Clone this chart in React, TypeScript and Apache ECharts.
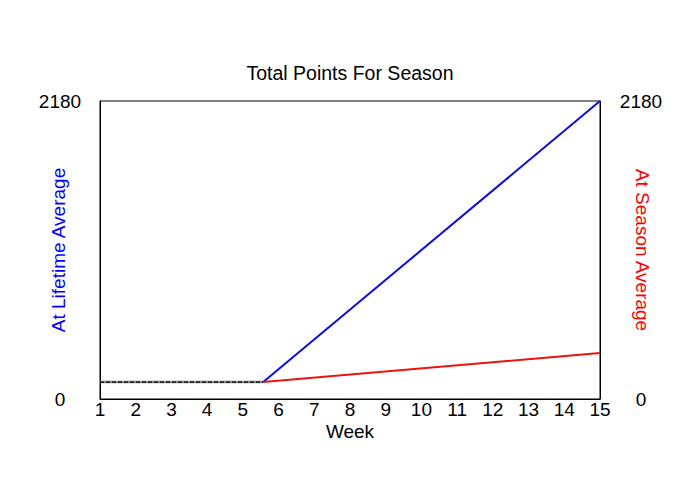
import { useEffect, useRef } from 'react'
import * as echarts from 'echarts'

// Weeks 1..15 along the bottom axis
const weekTicks = [1, 15]
const yRange = [0, 2180]

// Points so far (flat part before the projection starts)
const actualWeeks = [1, 5.57]
const actualPoints = [124, 124]

// Projection from the current week to week 15
const projWeeks = [5.57, 15]
const lifetimePoints = [124, 2180]
const seasonPoints = [124, 336]

const FONT = 'Liberation Sans, Arial, sans-serif'
const FS = 19

export default function App(): JSX.Element {
  const chartRef = useRef<HTMLDivElement>(null)

  useEffect(() => {
    if (!chartRef.current) return
    const chart = echarts.init(chartRef.current, undefined, { renderer: 'svg' })

    const zip = (xs: number[], ys: number[]) => xs.map((x, i) => [x, ys[i]])
    const plain = (v: number) => String(v)

    const option: echarts.EChartsOption = {
      animation: false,
      backgroundColor: '#ffffff',
      textStyle: { fontFamily: FONT },
      title: {
        text: 'Total Points For Season',
        left: 'center',
        top: 58,
        textStyle: { fontFamily: FONT, fontSize: 19.5, fontWeight: 'normal', color: '#000' }
      },
      grid: {
        left: 100,
        right: 100,
        top: 101,
        bottom: 101,
        show: true,
        borderColor: '#000',
        borderWidth: 1,
        backgroundColor: 'transparent'
      },
      xAxis: {
        type: 'value',
        min: weekTicks[0],
        max: weekTicks[1],
        interval: 1,
        name: 'Week',
        nameLocation: 'middle',
        nameGap: 23,
        nameMoveOverlap: false,
        nameTextStyle: { fontFamily: FONT, fontSize: FS, color: '#000' },
        axisLine: { show: true, lineStyle: { color: '#000' } },
        axisTick: { show: false },
        splitLine: { show: false },
        axisLabel: { fontFamily: FONT, fontSize: FS, color: '#000', margin: 1, formatter: plain }
      },
      yAxis: [
        {
          type: 'value',
          position: 'left',
          min: yRange[0],
          max: yRange[1],
          interval: yRange[1],
          name: 'At Lifetime Average',
          nameLocation: 'middle',
          nameGap: 32,
          nameRotate: 90,
          nameMoveOverlap: false,
          nameTextStyle: { fontFamily: FONT, fontSize: FS, color: '#0000ff' },
          axisLine: { show: true, lineStyle: { color: '#000' } },
          axisTick: { show: false },
          splitLine: { show: false },
          axisLabel: { fontFamily: FONT, fontSize: FS, color: '#000', margin: 40, align: 'center', formatter: plain }
        },
        {
          type: 'value',
          position: 'right',
          min: yRange[0],
          max: yRange[1],
          interval: yRange[1],
          name: 'At Season Average',
          nameLocation: 'middle',
          nameGap: 33,
          nameRotate: -90,
          nameMoveOverlap: false,
          nameTextStyle: { fontFamily: FONT, fontSize: FS, color: '#ff0000' },
          axisLine: { show: true, lineStyle: { color: '#000' } },
          axisTick: { show: false },
          splitLine: { show: false },
          axisLabel: { fontFamily: FONT, fontSize: FS, color: '#000', margin: 41, align: 'center', formatter: plain }
        }
      ],
      series: [
        {
          name: 'Actual base',
          type: 'line',
          data: zip(actualWeeks, actualPoints),
          showSymbol: false,
          lineStyle: { color: '#888', width: 2.5 }
        },
        {
          name: 'Actual',
          type: 'line',
          data: zip(actualWeeks, actualPoints),
          showSymbol: false,
          lineStyle: { color: '#000', width: 1.2, type: [4, 2] }
        },
        {
          name: 'At Lifetime Average',
          type: 'line',
          data: zip(projWeeks, lifetimePoints),
          showSymbol: false,
          lineStyle: { color: '#0c0cdc', width: 2 }
        },
        {
          name: 'At Season Average',
          type: 'line',
          yAxisIndex: 1,
          data: zip(projWeeks, seasonPoints),
          showSymbol: false,
          lineStyle: { color: '#ee1111', width: 2 }
        }
      ]
    }

    chart.setOption(option)
    return () => {
      chart.dispose()
    }
  }, [])

  return (
    <div
      ref={chartRef}
      style={{ position: 'absolute', left: 0, top: 0, width: 700, height: 500 }}
    />
  )
}
